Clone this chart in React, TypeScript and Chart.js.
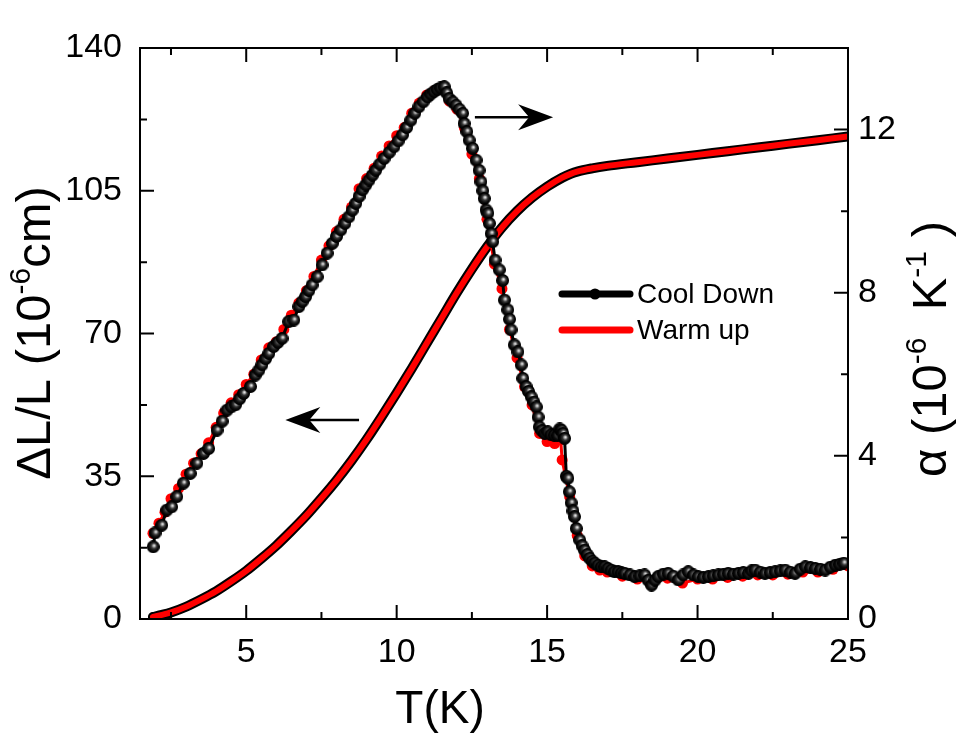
import { useEffect, useRef } from "react";
import { Chart, registerables } from "chart.js";
Chart.register(...registerables);

const FONT = '"Liberation Sans", Arial, Helvetica, sans-serif';

// Axis ticks
const X_MAJOR = [5, 10, 15, 20, 25];
const X_MINOR = [2.5, 7.5, 12.5, 17.5, 22.5];
const LEFT_MAJOR = [0, 35, 70, 105, 140];
const LEFT_MINOR = [17.5, 52.5, 87.5, 122.5];
const RIGHT_MAJOR = [0, 4, 8, 12];
const RIGHT_MINOR = [2, 6, 10];

// ΔL/L curve (left axis)
const T_DL = [1.9, 2.2, 2.5, 3.0, 3.5, 4.0, 4.5, 5.0, 5.5, 6.0, 6.5, 7.0, 7.5, 8.0, 8.5, 9.0, 9.5, 10.0, 10.5, 11.0, 11.5, 12.0, 12.5, 13.0, 13.5, 14.0, 14.5, 15.0, 15.5, 15.8, 16.0, 16.5, 17.0, 18.0, 19.0, 20.0, 21.0, 22.0, 23.0, 24.0, 25.0];
const DL_COOL = [0.5, 1.0, 1.6, 3.0, 4.8, 6.8, 9.2, 11.8, 14.8, 18.0, 21.6, 25.4, 29.6, 34.0, 38.8, 44.0, 49.6, 55.4, 61.4, 67.6, 73.8, 80.0, 85.8, 91.2, 96.0, 100.0, 103.3, 106.0, 108.2, 109.2, 109.7, 110.5, 111.1, 112.0, 112.9, 113.8, 114.7, 115.6, 116.5, 117.4, 118.3];
const DL_WARM = [0.5, 1.0, 1.6, 3.0, 4.8, 6.8, 9.2, 11.8, 14.8, 18.0, 21.6, 25.4, 29.6, 34.0, 38.8, 44.0, 49.6, 55.4, 61.4, 67.6, 73.8, 80.0, 85.8, 91.2, 96.0, 100.0, 103.3, 106.0, 108.2, 109.2, 109.7, 110.5, 111.1, 112.0, 112.9, 113.8, 114.7, 115.6, 116.5, 117.4, 118.3];

// α, cool down (right axis)
const T_A_COOL = [1.91, 1.97, 2.19, 2.36, 2.52, 2.69, 2.91, 3.14, 3.36, 3.58, 3.75, 4.03, 4.2, 4.36, 4.5, 4.64, 4.78, 4.91, 5.14, 5.3, 5.42, 5.52, 5.64, 5.75, 5.91, 6.05, 6.19, 6.41, 6.58, 6.75, 6.86, 6.97, 7.08, 7.19, 7.36, 7.52, 7.69, 7.86, 8.0, 8.14, 8.28, 8.41, 8.52, 8.64, 8.75, 8.86, 8.97, 9.08, 9.19, 9.3, 9.44, 9.58, 9.75, 9.91, 10.05, 10.19, 10.33, 10.47, 10.6, 10.74, 10.88, 11.02, 11.13, 11.24, 11.35, 11.46, 11.58, 11.66, 11.74, 11.86, 11.97, 12.08, 12.19, 12.24, 12.33, 12.41, 12.52, 12.64, 12.74, 12.8, 12.86, 12.91, 12.97, 13.03, 13.08, 13.14, 13.19, 13.27, 13.41, 13.52, 13.58, 13.69, 13.75, 13.8, 13.91, 14.03, 14.14, 14.19, 14.3, 14.38, 14.47, 14.56, 14.64, 14.7, 14.74, 14.82, 14.92, 15.02, 15.13, 15.24, 15.35, 15.42, 15.47, 15.52, 15.58, 15.64, 15.69, 15.74, 15.8, 15.86, 15.91, 15.97, 16.08, 16.16, 16.24, 16.33, 16.41, 16.5, 16.58, 16.69, 16.8, 16.91, 17.02, 17.13, 17.24, 17.36, 17.47, 17.58, 17.75, 17.91, 18.08, 18.24, 18.36, 18.47, 18.58, 18.69, 18.86, 19.02, 19.19, 19.36, 19.52, 19.69, 19.86, 20.02, 20.19, 20.36, 20.52, 20.69, 20.86, 21.02, 21.19, 21.36, 21.52, 21.69, 21.8, 21.91, 22.08, 22.24, 22.41, 22.58, 22.75, 22.91, 23.08, 23.24, 23.41, 23.58, 23.75, 23.91, 24.08, 24.24, 24.41, 24.58, 24.72, 24.86];
const A_COOL = [1.77, 2.11, 2.3, 2.67, 2.75, 3.0, 3.33, 3.57, 3.82, 4.06, 4.18, 4.63, 4.85, 5.12, 5.2, 5.25, 5.4, 5.53, 5.7, 5.98, 6.1, 6.23, 6.38, 6.51, 6.68, 6.78, 6.88, 7.29, 7.33, 7.66, 7.78, 7.9, 8.05, 8.19, 8.39, 8.68, 8.97, 9.21, 9.38, 9.54, 9.7, 9.86, 10.02, 10.19, 10.36, 10.52, 10.64, 10.76, 10.88, 11.0, 11.15, 11.29, 11.44, 11.58, 11.72, 11.87, 12.05, 12.23, 12.4, 12.56, 12.68, 12.8, 12.87, 12.93, 12.98, 13.02, 13.05, 12.9, 12.76, 12.68, 12.6, 12.5, 12.4, 12.15, 11.95, 11.74, 11.54, 11.25, 11.0, 10.72, 10.5, 10.31, 10.03, 9.95, 9.7, 9.45, 9.25, 8.8, 8.56, 8.3, 7.82, 7.58, 7.35, 7.09, 6.72, 6.55, 6.23, 5.9, 5.7, 5.58, 5.45, 5.32, 5.2, 4.95, 4.71, 4.62, 4.55, 4.59, 4.52, 4.51, 4.5, 4.66, 4.63, 4.55, 4.43, 3.5, 3.45, 3.12, 2.85, 2.65, 2.51, 2.22, 1.94, 1.8, 1.69, 1.58, 1.49, 1.42, 1.37, 1.32, 1.28, 1.28, 1.24, 1.2, 1.16, 1.16, 1.13, 1.12, 1.08, 1.04, 1.06, 1.08, 0.95, 0.83, 0.95, 1.04, 1.1, 1.12, 1.05, 0.96, 1.08, 1.16, 1.08, 1.04, 1.02, 1.04, 1.06, 1.08, 1.1, 1.12, 1.1, 1.12, 1.14, 1.12, 1.18, 1.2, 1.15, 1.12, 1.14, 1.16, 1.18, 1.2, 1.15, 1.12, 1.22, 1.28, 1.26, 1.24, 1.22, 1.2, 1.27, 1.32, 1.34, 1.37];

// α, warm up (right axis)
const T_A_WARM = [1.9, 2.1, 2.3, 2.5, 2.75, 3.0, 3.25, 3.5, 3.75, 4.0, 4.25, 4.5, 4.75, 5.0, 5.25, 5.5, 5.75, 6.0, 6.25, 6.5, 6.75, 7.0, 7.25, 7.5, 7.75, 8.0, 8.25, 8.5, 8.75, 9.0, 9.25, 9.5, 9.75, 10.0, 10.25, 10.5, 10.75, 11.0, 11.25, 11.5, 11.75, 12.0, 12.25, 12.5, 12.75, 13.0, 13.25, 13.5, 13.75, 14.0, 14.25, 14.5, 14.75, 15.0, 15.25, 15.45, 15.5, 15.75, 16.0, 16.25, 16.5, 16.75, 17.0, 17.5, 18.0, 18.5, 19.0, 19.5, 20.0, 20.5, 21.0, 21.5, 22.0, 22.5, 23.0, 23.5, 24.0, 24.5, 25.0];
const A_WARM = [2.1, 2.35, 2.62, 2.95, 3.2, 3.55, 3.82, 4.05, 4.32, 4.7, 5.05, 5.3, 5.5, 5.75, 6.0, 6.35, 6.65, 6.8, 7.1, 7.45, 7.75, 8.05, 8.4, 8.8, 9.15, 9.5, 9.8, 10.1, 10.55, 10.8, 11.05, 11.35, 11.6, 11.85, 12.05, 12.4, 12.65, 12.85, 12.95, 13.0, 12.7, 12.5, 12.05, 11.4, 10.8, 9.8, 8.7, 8.1, 7.1, 6.4, 5.7, 5.25, 4.55, 4.35, 4.3, 4.4, 3.9, 3.0, 2.05, 1.55, 1.3, 1.2, 1.15, 1.05, 0.98, 0.9, 1.0, 0.88, 0.98, 0.98, 1.02, 1.05, 1.08, 1.08, 1.1, 1.15, 1.15, 1.22, 1.3];

function makeSphere(d: number) {
  const c = document.createElement("canvas");
  c.width = d;
  c.height = d;
  const g = c.getContext("2d")!;
  const r = d / 2;
  const grad = g.createRadialGradient(r * 1.15, r * 0.8, 0, r * 1.05, r * 0.95, r);
  grad.addColorStop(0, "#f4f4f4");
  grad.addColorStop(0.16, "#b8b8b8");
  grad.addColorStop(0.4, "#3a3a3a");
  grad.addColorStop(0.7, "#0c0c0c");
  grad.addColorStop(1, "#000000");
  g.fillStyle = grad;
  g.beginPath();
  g.arc(r, r, r - 0.6, 0, Math.PI * 2);
  g.fill();
  g.strokeStyle = "#000";
  g.lineWidth = 1.2;
  g.stroke();
  return c;
}

type Part = { t: string; sup?: boolean };

function drawRich(ctx: CanvasRenderingContext2D, parts: Part[], size: number) {
  const supSize = Math.round(size * 0.62);
  const widths = parts.map((p) => {
    ctx.font = `${p.sup ? supSize : size}px ${FONT}`;
    return ctx.measureText(p.t).width;
  });
  const total = widths.reduce((a, b) => a + b, 0);
  let x = -total / 2;
  ctx.textBaseline = "alphabetic";
  ctx.textAlign = "left";
  parts.forEach((p, i) => {
    ctx.font = `${p.sup ? supSize : size}px ${FONT}`;
    ctx.fillText(p.t, x, p.sup ? -size * 0.4 : 0);
    x += widths[i];
  });
}

const decorPlugin = {
  id: "decor",
  afterDatasetsDraw(chart: any) {
    const { ctx, chartArea: a, scales } = chart;
    const xs = scales.x;
    const yl = scales.y;
    const yr = scales.y2;
    ctx.save();
    ctx.strokeStyle = "#000";
    ctx.lineWidth = 2;
    ctx.strokeRect(a.left, a.top, a.right - a.left, a.bottom - a.top);
    const major = 14;
    const minor = 7;
    ctx.beginPath();
    const xTick = (v: number, len: number) => {
      const px = xs.getPixelForValue(v);
      ctx.moveTo(px, a.bottom);
      ctx.lineTo(px, a.bottom - len);
      ctx.moveTo(px, a.top);
      ctx.lineTo(px, a.top + len);
    };
    X_MAJOR.forEach((v) => xTick(v, major));
    X_MINOR.forEach((v) => xTick(v, minor));
    const lTick = (v: number, len: number) => {
      const py = yl.getPixelForValue(v);
      ctx.moveTo(a.left, py);
      ctx.lineTo(a.left + len, py);
    };
    LEFT_MAJOR.forEach((v) => lTick(v, major));
    LEFT_MINOR.forEach((v) => lTick(v, minor));
    const rTick = (v: number, len: number) => {
      const py = yr.getPixelForValue(v);
      ctx.moveTo(a.right, py);
      ctx.lineTo(a.right - len, py);
    };
    RIGHT_MAJOR.forEach((v) => rTick(v, major));
    RIGHT_MINOR.forEach((v) => rTick(v, minor));
    ctx.stroke();

    // arrows
    const arrow = (x0: number, x1: number, y: number) => {
      const px0 = xs.getPixelForValue(x0);
      const px1 = xs.getPixelForValue(x1);
      const py = yl.getPixelForValue(y);
      const dir = Math.sign(px1 - px0);
      const headL = 35;
      const headW = 13;
      const notch = 11;
      ctx.beginPath();
      ctx.lineWidth = 2.5;
      ctx.moveTo(px0, py);
      ctx.lineTo(px1 - dir * headL * 0.6, py);
      ctx.stroke();
      ctx.beginPath();
      ctx.moveTo(px1, py);
      ctx.lineTo(px1 - dir * headL, py - headW);
      ctx.lineTo(px1 - dir * (headL - notch), py);
      ctx.lineTo(px1 - dir * headL, py + headW);
      ctx.closePath();
      ctx.fillStyle = "#000";
      ctx.fill();
    };
    arrow(8.75, 6.3, 48.8);
    arrow(12.6, 15.2, 123);

    // legend
    ctx.lineCap = "round";
    ctx.lineWidth = 7;
    ctx.strokeStyle = "#000";
    ctx.beginPath();
    ctx.moveTo(562, 294);
    ctx.lineTo(630, 294);
    ctx.stroke();
    ctx.fillStyle = "#000";
    ctx.beginPath();
    ctx.arc(595, 294, 5.5, 0, Math.PI * 2);
    ctx.fill();
    ctx.strokeStyle = "#ff0000";
    ctx.beginPath();
    ctx.moveTo(562, 330);
    ctx.lineTo(630, 330);
    ctx.stroke();
    ctx.fillStyle = "#000";
    ctx.font = `28px ${FONT}`;
    ctx.textAlign = "left";
    ctx.textBaseline = "middle";
    ctx.fillText("Cool Down", 637, 295);
    ctx.fillText("Warm up", 637, 331);

    // axis titles
    ctx.fillStyle = "#000";
    ctx.save();
    ctx.translate(440, 723);
    drawRich(ctx, [{ t: "T(K)" }], 46);
    ctx.restore();

    ctx.save();
    ctx.translate(50, 333);
    ctx.rotate(-Math.PI / 2);
    drawRich(ctx, [{ t: "ΔL/L (10" }, { t: "-6", sup: true }, { t: "cm)" }], 49);
    ctx.restore();

    ctx.save();
    ctx.translate(946, 349);
    ctx.rotate(-Math.PI / 2);
    drawRich(ctx, [{ t: "α (10" }, { t: "-6", sup: true }, { t: "  K" }, { t: "-1", sup: true }, { t: " )" }], 49);
    ctx.restore();

    ctx.restore();
  },
};

export default function App() {
  const ref = useRef<HTMLCanvasElement>(null);
  useEffect(() => {
    const sphere = makeSphere(13);
    const tickFont = { family: FONT, size: 34 };
    const chart = new Chart(ref.current!, {
      type: "line",
      data: {
        datasets: [
          {
            label: "Cool Down α",
            data: T_A_COOL.map((t, i) => ({ x: t, y: A_COOL[i] })),
            yAxisID: "y2",
            borderColor: "#000",
            borderWidth: 3,
            pointStyle: sphere as any,
            pointRadius: 6.5,
            order: 1,
          },
          {
            label: "Warm up α",
            data: T_A_WARM.map((t, i) => ({ x: t, y: A_WARM[i] })),
            yAxisID: "y2",
            borderColor: "#ff0000",
            borderWidth: 3,
            pointStyle: "circle",
            pointRadius: 5.5,
            pointBackgroundColor: "#ff0000",
            pointBorderColor: "#ff0000",
            pointBorderWidth: 0,
            order: 2,
          },
          {
            label: "Warm up ΔL/L",
            data: T_DL.map((t, i) => ({ x: t, y: DL_WARM[i] })),
            yAxisID: "y",
            borderColor: "#ff0000",
            borderWidth: 6,
            borderCapStyle: "round",
            pointRadius: 0,
            cubicInterpolationMode: "monotone",
            order: 3,
          },
          {
            label: "Cool Down ΔL/L",
            data: T_DL.map((t, i) => ({ x: t, y: DL_COOL[i] })),
            yAxisID: "y",
            borderColor: "#000",
            borderWidth: 10,
            borderCapStyle: "round",
            pointRadius: 0,
            cubicInterpolationMode: "monotone",
            order: 4,
          },
        ],
      },
      options: {
        animation: false,
        responsive: false,
        devicePixelRatio: 1,
        events: [],
        layout: { padding: { top: 48, left: 0, right: 0, bottom: 0 } },
        plugins: { legend: { display: false }, tooltip: { enabled: false } },
        scales: {
          x: {
            type: "linear",
            min: 1.47,
            max: 25,
            grid: { display: false, drawTicks: false },
            border: { display: false },
            ticks: { font: tickFont, color: "#000", padding: 13, maxRotation: 0 },
            afterBuildTicks: (s: any) => {
              s.ticks = X_MAJOR.map((v) => ({ value: v }));
            },
            afterFit: (s: any) => {
              s.height = 117;
            },
          },
          y: {
            type: "linear",
            position: "left",
            min: 0,
            max: 140,
            grid: { display: false, drawTicks: false },
            border: { display: false },
            ticks: { font: tickFont, color: "#000", padding: 18 },
            afterBuildTicks: (s: any) => {
              s.ticks = LEFT_MAJOR.map((v) => ({ value: v }));
            },
            afterFit: (s: any) => {
              s.width = 140;
            },
          },
          y2: {
            type: "linear",
            position: "right",
            min: 0,
            max: 14,
            grid: { display: false, drawTicks: false },
            border: { display: false },
            ticks: { font: tickFont, color: "#000", padding: 10 },
            afterBuildTicks: (s: any) => {
              s.ticks = RIGHT_MAJOR.map((v) => ({ value: v }));
            },
            afterFit: (s: any) => {
              s.width = 128;
            },
          },
        },
      },
      plugins: [decorPlugin],
    });
    return () => chart.destroy();
  }, []);
  return (
    <div style={{ position: "absolute", left: 0, top: 0, width: 976, height: 736, background: "#fff" }}>
      <canvas ref={ref} width={976} height={736} style={{ display: "block", width: 976, height: 736 }} />
    </div>
  );
}
